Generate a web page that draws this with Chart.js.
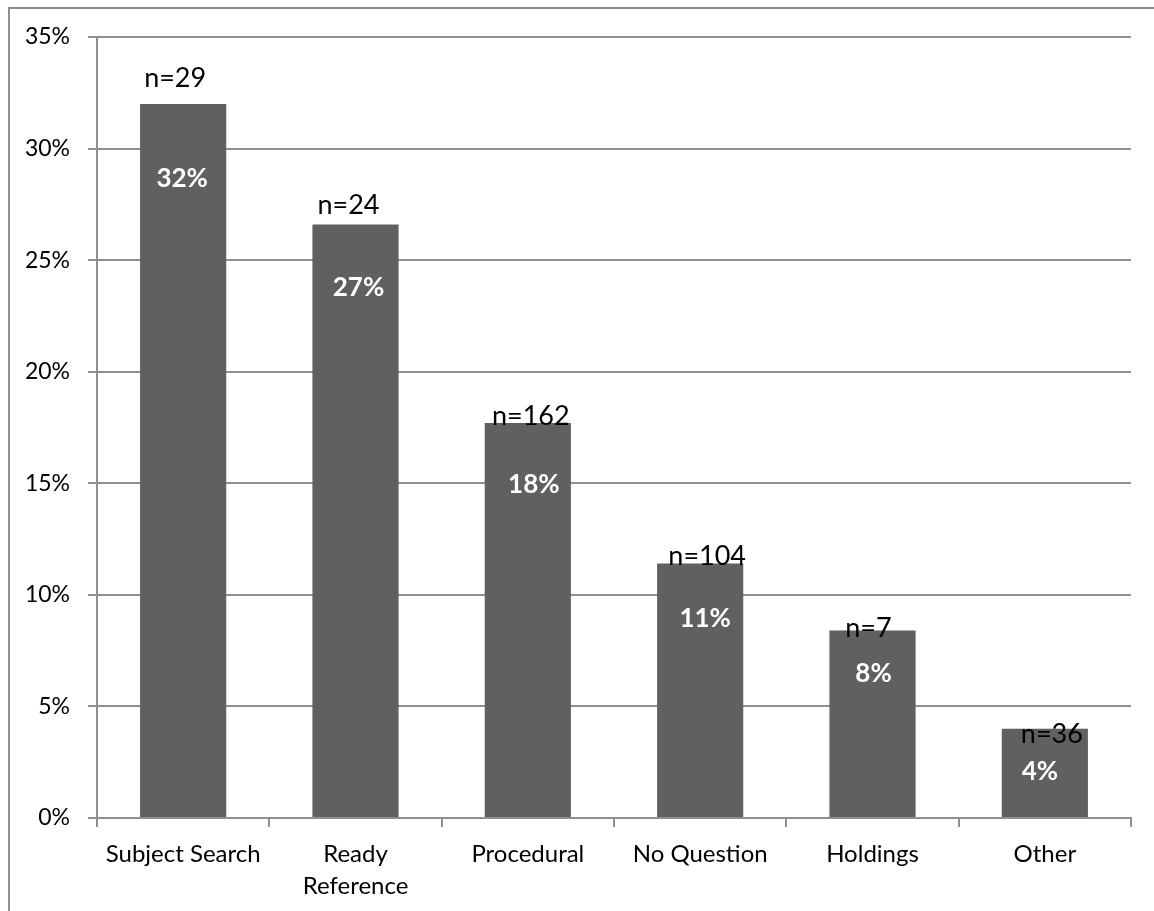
<!DOCTYPE html>
<html>
<head>
<meta charset="utf-8">
<script src="https://cdn.jsdelivr.net/npm/chart.js@4"></script>
<style>
  html, body { margin: 0; padding: 0; background: #fff; overflow: hidden; }
  .frame {
    position: absolute; left: 8px; top: 7px; width: 1300px; height: 1100px;
    border-top: 2px solid #8f8f8f; border-left: 2px solid #8f8f8f;
  }
  #chart { position: absolute; left: 0; top: 0; }
</style>
</head>
<body>
<div class="frame"></div>
<canvas id="chart" width="1154" height="911"></canvas>
<script>
const categories = ['Subject Search', ['Ready', 'Reference'], 'Procedural', 'No Question', 'Holdings', 'Other'];
const shares = [32.0, 26.6, 17.7, 11.4, 8.4, 4.0];
const counts = [29, 24, 162, 104, 7, 36];
const yTicks = [0, 5, 10, 15, 20, 25, 30, 35];

// hand-placed label nudges, [dx, dy] from the top centre of each bar
const countNudge = [[-8, -17], [-7, -10], [3, 2], [7, 1], [-4, 6], [7, 14]];
const shareNudge = [[-1, 83], [3, 72], [6, 70], [5, 63], [1, 51], [-5, 51]];

const gridGray = '#8f8f8f';
const font = 'Lato';

const barLabels = {
  id: 'barLabels',
  afterDatasetsDraw(chart) {
    const ctx = chart.ctx;
    const bars = chart.getDatasetMeta(0).data;
    ctx.save();
    ctx.textAlign = 'center';
    ctx.textBaseline = 'alphabetic';
    bars.forEach((bar, i) => {
      ctx.font = `27px ${font}`;
      ctx.fillStyle = '#000';
      ctx.fillText('n=' + counts[i], bar.x + countNudge[i][0], bar.y + countNudge[i][1]);
      ctx.font = `bold 26px ${font}`;
      ctx.fillStyle = '#fff';
      ctx.fillText(Math.round(shares[i]) + '%', bar.x + shareNudge[i][0], bar.y + shareNudge[i][1]);
    });
    ctx.restore();
  }
};

new Chart(document.getElementById('chart'), {
  type: 'bar',
  data: {
    labels: categories,
    datasets: [{
      data: shares,
      backgroundColor: '#606060',
      barPercentage: 0.5,
      categoryPercentage: 1
    }]
  },
  options: {
    responsive: false,
    animation: false,
    layout: { padding: { top: 37, right: 23, left: 0, bottom: 0 } },
    plugins: { legend: { display: false }, tooltip: { enabled: false } },
    scales: {
      y: {
        min: yTicks[0],
        max: yTicks[yTicks.length - 1],
        afterBuildTicks(scale) { scale.ticks = yTicks.map(v => ({ value: v })); },
        afterFit(scale) { scale.width = 97; },
        ticks: {
          callback: v => v + '%',
          color: '#000',
          padding: 18,
          font: { family: font, size: 23 }
        },
        grid: { color: gridGray, lineWidth: 2, tickLength: 9 },
        border: { color: gridGray, width: 2 }
      },
      x: {
        afterFit(scale) { scale.height = 93; },
        ticks: {
          color: '#000',
          padding: 11,
          maxRotation: 0,
          font: { family: font, size: 24, lineHeight: 1.33 }
        },
        grid: { drawOnChartArea: false, color: gridGray, lineWidth: 2, tickLength: 9 },
        border: { color: gridGray, width: 2 }
      }
    }
  },
  plugins: [barLabels]
});
</script>
</body>
</html>
